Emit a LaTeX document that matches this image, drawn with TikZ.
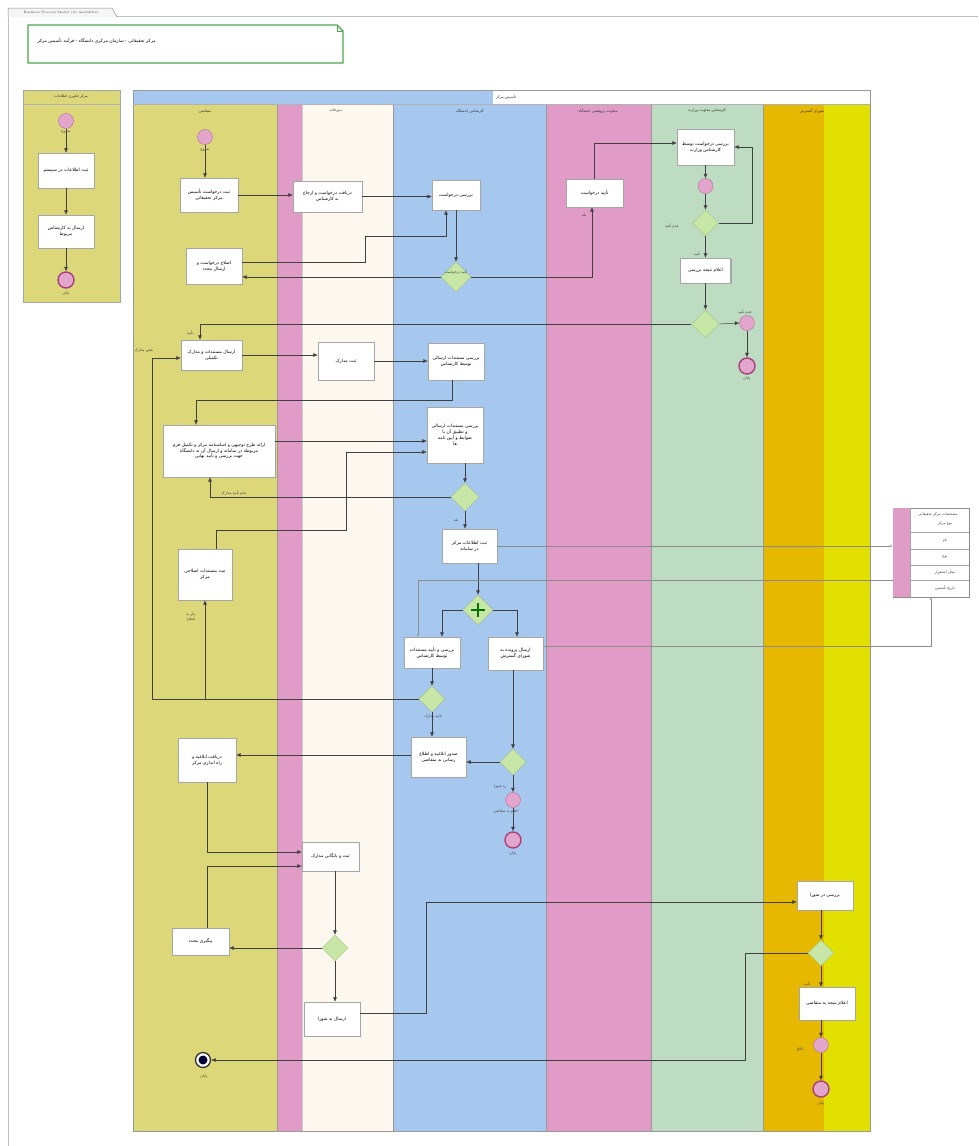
\documentclass[tikz,border=0pt]{standalone}
\usepackage{fontspec}
\usetikzlibrary{shapes.geometric,arrows.meta,shadows}
\TeXXeTstate=1
\newfontfamily\arabicfont[Script=Arabic]{DejaVu Sans}
\newcommand\fa[1]{{\arabicfont\beginR #1\endR}}
\newcommand\tfs{\fontsize{4.5}{5.8}\selectfont}
\newcommand\tls{\fontsize{3.7}{4.4}\selectfont}
\definecolor{cOlive}{HTML}{DCD87A}
\definecolor{cPink}{HTML}{E09CC6}
\definecolor{cCream}{HTML}{FDF8EF}
\definecolor{cBlue}{HTML}{A7C8EE}
\definecolor{cGreen}{HTML}{BEDCC2}
\definecolor{cOrange}{HTML}{E6B800}
\definecolor{cYellow}{HTML}{E2E000}
\definecolor{gwF}{HTML}{C8E6A5}
\definecolor{gwD}{HTML}{9CC47A}
\definecolor{evF}{HTML}{E2A6CD}
\definecolor{evD}{HTML}{B86A98}
\definecolor{evE}{HTML}{A8407A}
\definecolor{noteG}{HTML}{4AA84A}
\begin{document}
\begin{tikzpicture}[x=1pt,y=-1pt,
  task/.style={draw=black!35, fill=white, font=\tfs, align=center, inner sep=1pt,
    drop shadow={shadow xshift=1pt,shadow yshift=-1pt,opacity=.2,fill=black}},
  gw/.style={diamond, aspect=1, draw=gwD, fill=gwF, inner sep=0, minimum size=26},
  ev/.style={circle, draw=evD, fill=evF, inner sep=0, minimum size=15},
  evend/.style={circle, draw=evE, fill=evF, inner sep=0, minimum size=16, line width=1.4},
  conn/.style={draw=black!75, line width=.5, -{Latex[length=4.5,width=4]}},
  dconn/.style={draw=black!45, line width=.4, -{Latex[open,length=3,width=3]}},
  lbl/.style={font=\tls, text=black!75, inner sep=0.5},
  hdr/.style={font=\tls, text=black!80, inner sep=0}]
\fill[white] (0,0) rectangle (978,1146);
\useasboundingbox (0,0) rectangle (978,1146);
% frame and tab
\draw[black!25, line width=.5] (117,16) -- (978,16);
\draw[black!25, line width=.5] (8,16) -- (8,1146);
\draw[black!45, fill=black!4, line width=.5] (8,17) -- (8,8) -- (112,8) -- (117,17);
\node[font=\fontsize{3.2}{4}\selectfont, text=black!75] (tab) at (61,12.5) {Business Process Model (A) modalities};
% note
\draw[noteG, line width=1.3, fill=white] (28,25) -- (337,25) -- (343,31) -- (343,63) -- (28,63) -- cycle;
\draw[noteG, line width=.6] (337,25) -- (337,31) -- (343,31);
\node[font=\tfs, anchor=west] (note) at (34,41) {\fa{مرکز تحقیقاتی - سازمان مرکزی دانشگاه - فرآیند تأسیس مرکز}};
% left pool
\fill[cOlive] (23,90) rectangle (120,302);
\draw[black!35, line width=.5] (23,90) rectangle (120,302);
\draw[black!30, line width=.4] (23,104) -- (120,104);
\node[hdr] (lph) at (71,97) {\fa{مرکز فناوری اطلاعات}};
% main pool lanes
\fill[cOlive] (133,104) rectangle (277,1131);
\fill[cPink] (277,104) rectangle (302,1131);
\fill[cCream] (302,104) rectangle (393,1131);
\fill[cBlue] (393,104) rectangle (546,1131);
\fill[cPink] (546,104) rectangle (651,1131);
\fill[cGreen] (651,104) rectangle (763,1131);
\fill[cOrange] (763,104) rectangle (824,1131);
\fill[cYellow] (824,104) rectangle (870,1131);
\fill[white] (133,90) rectangle (870,104);
\fill[cBlue] (133,90) rectangle (493,104);
\foreach \xx in {277,393,546,651,763}{\draw[black!40, line width=.5] (\xx,104) -- (\xx,1131);}
\draw[black!20, line width=.3] (302,104) -- (302,1131);
\draw[black!40, line width=.5] (133,90) rectangle (870,1131);
\draw[black!30, line width=.4] (133,104) -- (870,104);
\node[hdr] (ph) at (506,97) {\fa{تأسیس مرکز}};
\node[hdr] (h1) at (205,111) {\fa{متقاضی}};
\node[hdr] (h2) at (336,111) {\fa{دبیرخانه}};
\node[hdr] (h3) at (470,111) {\fa{کارشناس دانشگاه}};
\node[hdr] (h4) at (598,111) {\fa{معاونت پژوهشی دانشگاه}};
\node[hdr] (h5) at (707,111) {\fa{کارشناس معاونت وزارت}};
\node[hdr] (h6) at (812,111) {\fa{شورای گسترش}};
% left pool nodes
\node[ev] (LS) at (66,121) {};
\node[task,minimum width=56,minimum height=35] (LT1) at (66,170.5) {\fa{ثبت اطلاعات در سیستم}};
\node[task,minimum width=56,minimum height=33] (LT2) at (66,231.5) {\fa{ارسال به کارشناس}\\\fa{مربوط}};
\node[evend] (LE) at (66,280) {};
\node[lbl] (lsl) at (66,132) {\fa{شروع}};
\node[lbl] (lel) at (66,294) {\fa{پایان}};
% lane 1
\node[ev] (S1) at (205,137) {};
\node[lbl] (s1l) at (205,150) {\fa{شروع}};
\node[task,minimum width=58,minimum height=34] (T1) at (209,195) {\fa{ثبت درخواست تأسیس}\\\fa{مرکز تحقیقاتی}};
\node[task,minimum width=56,minimum height=36] (T2) at (214,266) {\fa{اصلاح درخواست و}\\\fa{ارسال مجدد}};
\node[task,minimum width=61,minimum height=30] (T3) at (211.5,355) {\fa{ارسال مستندات و مدارک}\\\fa{تکمیلی}};
\node[task,minimum width=112,minimum height=52] (T4) at (219,451) {\fa{ارائه طرح توجیهی و اساسنامه مرکز و تکمیل فرم}\\\fa{مربوطه در سامانه و ارسال آن به دانشگاه}\\\fa{جهت بررسی و تأیید نهایی}};
\node[task,minimum width=54,minimum height=51] (T5) at (205,574.5) {\fa{ثبت مستندات اصلاحی}\\\fa{مرکز}};
\node[task,minimum width=58,minimum height=44] (T6) at (207,760) {\fa{دریافت ابلاغیه و}\\\fa{راه اندازی مرکز}};
\node[task,minimum width=57,minimum height=27] (T7) at (200.5,941.5) {\fa{پیگیری مجدد}};
\node[circle, draw=black!80, line width=1.3, fill=white, minimum size=15, inner sep=0] (E1) at (203,1060) {};
\fill[black!80!blue] (E1.center) circle (4.5);
\node[lbl] (e1l) at (204,1077) {\fa{پایان}};
% lane 2
\node[task,minimum width=69,minimum height=31] (T8) at (327.5,196.5) {\fa{دریافت درخواست و ارجاع}\\\fa{به کارشناس}};
\node[task,minimum width=56,minimum height=38] (T9) at (346,361) {\fa{ثبت مدارک}};
\node[task,minimum width=57,minimum height=29] (T10) at (330.5,856.5) {\fa{ثبت و بایگانی مدارک}};
\node[gw] (G6) at (335,948) {};
\node[task,minimum width=56,minimum height=34] (T11) at (332,1019) {\fa{ارسال به شورا}};
% lane 3
\node[task,minimum width=48,minimum height=30] (T12) at (456,195) {\fa{بررسی درخواست}};
\node[gw, minimum size=30] (G1) at (456,277) {};
\node[lbl] (g1l) at (456,272) {\fa{تأیید درخواست}};
\node[task,minimum width=56,minimum height=37] (T13) at (456,361.5) {\fa{بررسی مستندات ارسالی}\\\fa{توسط کارشناس}};
\node[task,minimum width=56,minimum height=56] (T14) at (455,435) {\fa{بررسی مستندات ارسالی}\\\fa{و تطبیق آن با}\\\fa{ضوابط و آیین نامه}\\\fa{ها}};
\node[gw, minimum size=28] (G2) at (465,497) {};
\node[task,minimum width=55,minimum height=34] (T15) at (469.5,546) {\fa{ثبت اطلاعات مرکز}\\\fa{در سامانه}};
\node[gw, minimum size=30] (G3) at (478,610) {};
\draw[green!45!black, line width=2] ([yshift=7]G3.center) -- ([yshift=-7]G3.center);
\draw[green!45!black, line width=2] ([xshift=-7]G3.center) -- ([xshift=7]G3.center);
\node[task,minimum width=56,minimum height=31] (T16) at (432,652.5) {\fa{بررسی و تأیید مستندات}\\\fa{توسط کارشناس}};
\node[task,minimum width=55,minimum height=33] (T17) at (515.5,653.5) {\fa{ارسال پرونده به}\\\fa{شورای گسترش}};
\node[gw] (G4) at (432,699) {};
\node[task,minimum width=55,minimum height=40] (T18) at (438.5,757) {\fa{صدور ابلاغیه و اطلاع}\\\fa{رسانی به متقاضی}};
\node[gw] (G5) at (513,762) {};
\node[ev] (I1) at (513,800) {};
\node[evend] (E2) at (513,840) {};
% lane 4
\node[task,minimum width=57,minimum height=28] (T19) at (594.5,193) {\fa{تأیید درخواست}};
% lane 5
\node[task,minimum width=57,minimum height=36] (T20) at (705.5,147) {\fa{بررسی درخواست توسط}\\\fa{کارشناس وزارت}};
\node[ev] (I2) at (705.5,186) {};
\node[gw] (G7) at (705.5,223) {};
\node[task,minimum width=50,minimum height=25] (T21) at (705.5,270.5) {\fa{اعلام نتیجه بررسی}};
\node[gw, minimum size=28] (G8) at (705.5,324) {};
\node[ev] (I3) at (747,323) {};
\node[evend] (E3) at (747,366) {};
% lane 6
\node[task,minimum width=56,minimum height=29] (T22) at (825,895.5) {\fa{بررسی در شورا}};
\node[gw] (G9) at (821,953) {};
\node[task,minimum width=56,minimum height=33] (T23) at (827,1003.5) {\fa{اعلام نتیجه به متقاضی}};
\node[ev] (I4) at (821,1045) {};
\node[evend] (E4) at (821,1089) {};
% data object
\node[draw=black!45, fill=white, minimum width=76, minimum height=89, inner sep=0] (D) at (931,552.5) {};
\fill[cPink] (893.3,508.3) rectangle (910,596.7);
\foreach \yy in {532,549,565,580}{\draw[black!35, line width=.4] (910,\yy) -- (969,\yy);}
\draw[black!35, line width=.4] (910,508) -- (910,597);
\node[lbl] (dh1) at (938,515) {\fa{مشخصات مرکز تحقیقاتی}};
\node[lbl] (dh2) at (945,524) {\fa{نوع مرکز}};
\node[lbl] (dr1) at (945,541) {\fa{نام}};
\node[lbl] (dr2) at (945,557) {\fa{نوع}};
\node[lbl] (dr3) at (945,572.5) {\fa{محل استقرار}};
\node[lbl] (dr4) at (945,588) {\fa{تاریخ تأسیس}};
% connectors left pool
\draw[conn] (LS) -- (LT1);
\draw[conn] (LT1) -- (LT2);
\draw[conn] (LT2) -- (LE);
% connectors main
\draw[conn] (S1) -- ([xshift=-4]T1.north);
\draw[conn] (T1.east) -- (T1.east -| T8.west);
\draw[conn] (T8.east) -- (T8.east -| T12.west);
\draw[conn] (T12) -- (G1);
\draw[conn] (G1.west) -- (G1.west -| T2.east);
\draw[conn] ([yshift=4]T2.east) -- (365,262) -- (365,236) -- (446,236) -- ([xshift=-10]T12.south);
\draw[conn] (G1.east) -- (592,277) -- ([xshift=-2.5]T19.south);
\node[lbl] (l19) at (584,215) {\fa{بله}};
\draw[conn] (T19.north) -- (594.5,143) -- ([yshift=4]T20.west);
\draw[conn] (T20) -- (I2);
\draw[conn] (I2) -- (G7);
\draw[conn] (G7) -- (T21);
\draw[conn] (T21) -- (G8);
\node[lbl] (l7) at (672,226) {\fa{عدم تأیید}};
\node[lbl] (l21) at (697,254) {\fa{تأیید}};
\draw[conn] (G7.east) -- (752,223) -- (752,147) -- (T20.east);
\draw[conn] (G8.east) -- (I3.west);
\node[lbl] (l8) at (745,312) {\fa{عدم تأیید}};
\draw[conn] (I3) -- (E3);
\node[lbl] (e3l) at (747,379) {\fa{پایان}};
\draw[conn] (G8.west) -- (200,324) -- ([xshift=-11.5]T3.north);
\node[lbl] (l3t) at (190,333) {\fa{تأیید}};
\draw[conn] (T3.east) -- (T3.east -| T9.west);
\draw[conn] (T9.east) -- (T9.east -| T13.west);
\draw[conn] ([xshift=-4]T13.south) -- (452,400) -- (196,400) -- ([xshift=-23]T4.north);
\draw[conn] ([yshift=10]T4.east) -- ([yshift=-6]T14.west);
\draw[conn] ([xshift=11]T5.north) -- (216,530) -- (346,530) -- (346,452) -- ([yshift=-17]T14.west);
\draw[conn] ([xshift=10]T14.south) -- (G2.north);
\draw[conn] (G2.west) -- (210,497) -- ([xshift=-9]T4.south);
\node[lbl] (l2) at (234,493) {\fa{عدم تأیید مدارک}};
\draw[conn] (G2.south) -- ([xshift=-4.5]T15.north);
\node[lbl] (l2b) at (456,520) {\fa{بله}};
\draw[dconn] (T15.east) -- (T15.east -| D.west);
\draw[conn] ([xshift=8.5]T15.south) -- (G3.north);
\draw[dconn] ([yshift=-27.5]D.west) -- (418,580) -- ([xshift=-14]T16.north);
\draw[conn] (G3.west) -- (442,610) -- ([xshift=10]T16.north);
\draw[conn] (G3.east) -- (517,610) -- ([xshift=1.5]T17.north);
\draw[dconn] ([yshift=7]T17.east) -- (931,646.5) -- (D.south);
\draw[conn] (T16) -- (G4);
\draw[conn] (G4.west) -- (152,699) -- (152,358) -- ([yshift=-3]T3.west);
\node[lbl] (l3l) at (144,351) {\fa{نقص مدارک}};
\draw[conn] (G4.west) -- (205,699) -- (T5.south);
\node[lbl, align=center] (l5) at (191,617) {\fa{نیاز به}\\\fa{اصلاح}};
\draw[conn] (G4.south) -- ([xshift=-6.5]T18.north);
\node[lbl] (l4) at (433,716) {\fa{تأیید مدارک}};
\draw[conn] ([xshift=-2.5]T17.south) -- (G5.north);
\draw[conn] (G5.west) -- (G5.west -| T18.east);
\draw[conn] (G5) -- (I1);
\node[lbl] (l5b) at (500,787) {\fa{رد شورا}};
\node[lbl] (i1l) at (506,812) {\fa{اعلام به متقاضی}};
\draw[conn] (I1) -- (E2);
\node[lbl] (e2l) at (513,854) {\fa{پایان}};
\draw[conn] ([yshift=2]T18.west) -- ([yshift=5]T6.east);
\draw[conn] (T6.south) -- (207,852) -- ([yshift=4.5]T10.west);
\draw[conn] ([xshift=7]T7.north) -- (207.5,866) -- ([yshift=-9.5]T10.west);
\draw[conn] ([xshift=4.5]T10.south) -- (G6.north);
\draw[conn] (G6.west) -- (G6.west -| T7.east);
\draw[conn] (G6.south) -- ([xshift=3]T11.north);
\draw[conn] ([yshift=6]T11.east) -- (426,1013) -- (426,902) -- ([yshift=-6.5]T22.west);
\draw[conn] ([xshift=-4]T22.south) -- (G9.north);
\draw[conn] (G9.south) -- ([xshift=-6]T23.north);
\node[lbl] (l23) at (807,984) {\fa{تأیید}};
\draw[conn] ([xshift=-6]T23.south) -- (I4.north);
\node[lbl] (i4l) at (800,1050) {\fa{ابلاغ}};
\draw[conn] (I4) -- (E4);
\node[lbl] (e4l) at (821,1104) {\fa{پایان}};
\draw[conn] (G9.west) -- (745,953) -- (745,1060) -- (E1.east);
\end{tikzpicture}
\end{document}
